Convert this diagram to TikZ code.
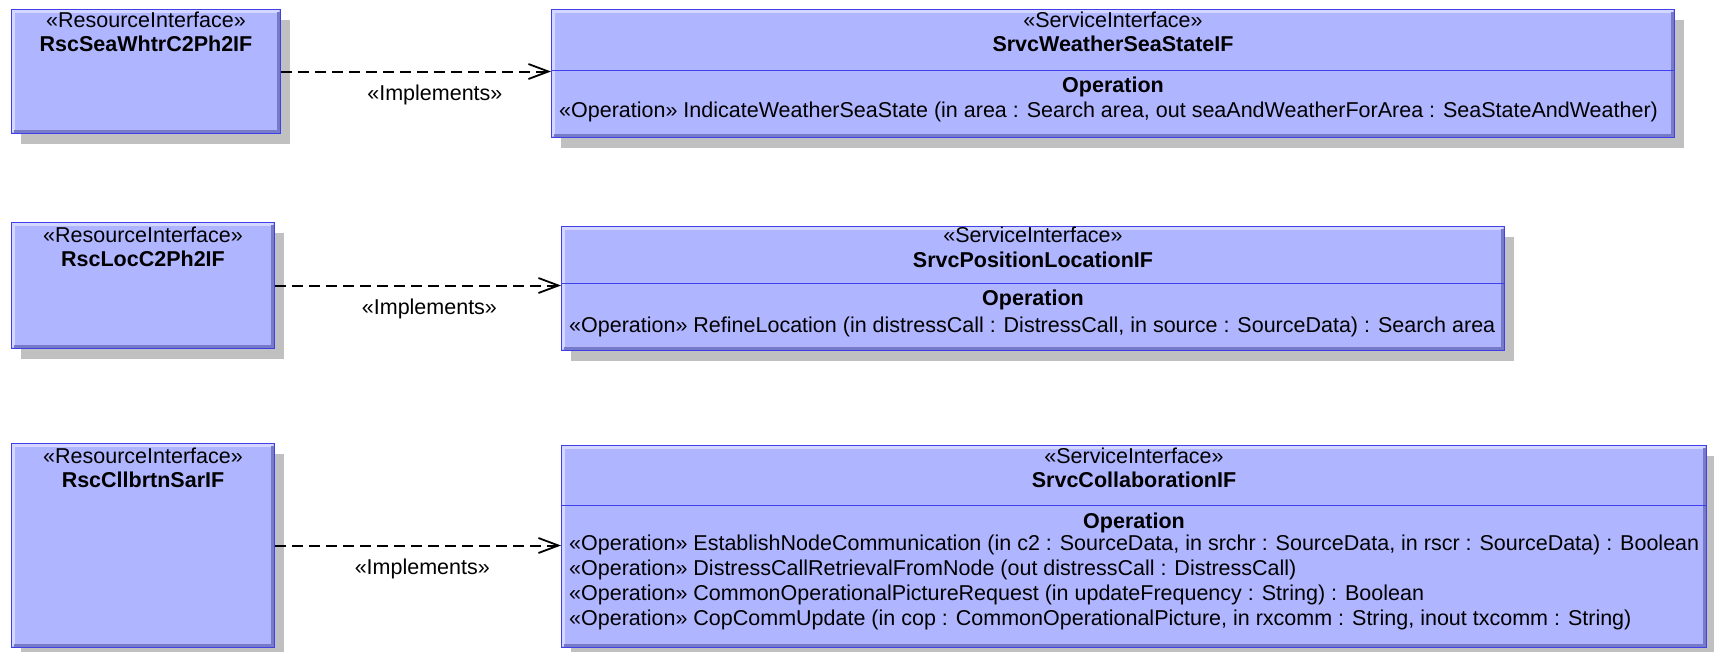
\documentclass[tikz,border=0pt]{standalone}
\usepackage{fontspec}
\setmainfont{Liberation Sans}
\usetikzlibrary{arrows.meta,shadows,calc}
\definecolor{umlfill}{RGB}{176,181,255}
\definecolor{umledge}{RGB}{64,64,232}
\definecolor{bevhi}{RGB}{212,215,255}
\definecolor{bevlo}{RGB}{118,122,200}
\definecolor{shadowgray}{RGB}{192,192,192}

\tikzset{
  umlbox/.style={rectangle, anchor=north west, inner sep=0pt,
    fill=umlfill, draw=umledge, line width=1pt,
    drop shadow={shadow xshift=9pt, shadow yshift=-10pt, fill=shadowgray, opacity=1},
    path picture={
      \draw[bevhi, line width=3pt]
        ([shift={(2pt,2pt)}]path picture bounding box.south west) |-
        ([shift={(-2pt,-2pt)}]path picture bounding box.north east);
      \draw[bevlo, line width=3pt]
        ([shift={(2pt,2pt)}]path picture bounding box.south west) -|
        ([shift={(-2pt,-2pt)}]path picture bounding box.north east);
    }},
  divider/.style={draw=umledge, line width=1pt},
  stereo/.style={anchor=base, inner sep=0pt, font=\fontsize{21.5}{25}\selectfont},
  title/.style={anchor=base, inner sep=0pt, font=\fontsize{21.5}{25}\selectfont\bfseries},
  optext/.style={anchor=base west, inner sep=0pt, font=\fontsize{21.5}{25}\selectfont},
  implarrow/.style={dashed, dash pattern=on 11pt off 6pt, line width=2pt, black,
    -{Straight Barb[length=20pt,width=15pt,line width=1.8pt]}},
  impllabel/.style={anchor=base, yshift=-29pt, inner sep=0pt,
    font=\fontsize{21.5}{25}\selectfont}
}

\begin{document}
\begin{tikzpicture}[x=1pt,y=-1pt]
\useasboundingbox[fill=white] (0,0) rectangle (1714,651);

% ---------- row 1 ----------
\node[umlbox, minimum width=269pt, minimum height=124pt] (r1) at (11,9) {};
\node[umlbox, minimum width=1123pt, minimum height=128pt] (s1) at (551,9) {};
\draw[divider] ($(s1.north west)+(0,61)$) -- ($(s1.north east)+(0,61)$);

\node[stereo] (r1st) at ($(r1.north)+(0,18)$) {«ResourceInterface»};
\node[title]  (r1nm) at ($(r1.north)+(0,42)$) {RscSeaWhtrC2Ph2IF};
\node[stereo] (s1st) at ($(s1.north)+(0,18)$) {«ServiceInterface»};
\node[title]  (s1nm) at ($(s1.north)+(0,42)$) {SrvcWeatherSeaStateIF};
\node[title]  (s1op) at ($(s1.north)+(0,83)$) {Operation};
\node[optext] (s1o1) at ($(s1.north west)+(8,108)$)
  {«Operation» IndicateWeatherSeaState (in area : Search area, out seaAndWeatherForArea : SeaStateAndWeather)};

\draw[implarrow] (r1.east) -- (r1.east -| s1.west)
  node[impllabel, pos=0.57] (l1) {«Implements»};

% ---------- row 2 ----------
\node[umlbox, minimum width=263pt, minimum height=126pt] (r2) at (11,222) {};
\node[umlbox, minimum width=943pt, minimum height=124pt] (s2) at (561,226) {};
\draw[divider] ($(s2.north west)+(0,57)$) -- ($(s2.north east)+(0,57)$);

\node[stereo] (r2st) at ($(r2.north)+(0,20)$) {«ResourceInterface»};
\node[title]  (r2nm) at ($(r2.north)+(0,44)$) {RscLocC2Ph2IF};
\node[stereo] (s2st) at ($(s2.north)+(0,16)$) {«ServiceInterface»};
\node[title]  (s2nm) at ($(s2.north)+(0,41)$) {SrvcPositionLocationIF};
\node[title]  (s2op) at ($(s2.north)+(0,79)$) {Operation};
\node[optext] (s2o1) at ($(s2.north west)+(8,106)$)
  {«Operation» RefineLocation (in distressCall : DistressCall, in source : SourceData) : Search area};

\draw[implarrow] (r2.east) -- (r2.east -| s2.west)
  node[impllabel, pos=0.54] (l2) {«Implements»};

% ---------- row 3 ----------
\node[umlbox, minimum width=263pt, minimum height=204pt] (r3) at (11,443) {};
\node[umlbox, minimum width=1145pt, minimum height=202pt] (s3) at (561,445) {};
\draw[divider] ($(s3.north west)+(0,60)$) -- ($(s3.north east)+(0,60)$);

\node[stereo] (r3st) at ($(r3.north)+(0,20)$) {«ResourceInterface»};
\node[title]  (r3nm) at ($(r3.north)+(0,44)$) {RscCllbrtnSarIF};
\node[stereo] (s3st) at ($(s3.north)+(0,18)$) {«ServiceInterface»};
\node[title]  (s3nm) at ($(s3.north)+(0,42)$) {SrvcCollaborationIF};
\node[title]  (s3op) at ($(s3.north)+(0,83)$) {Operation};
\node[optext] (s3o1) at ($(s3.north west)+(8,105)$)
  {«Operation» EstablishNodeCommunication (in c2 : SourceData, in srchr : SourceData, in rscr : SourceData) : Boolean};
\node[optext] (s3o2) at ($(s3.north west)+(8,130)$)
  {«Operation» DistressCallRetrievalFromNode (out distressCall : DistressCall)};
\node[optext] (s3o3) at ($(s3.north west)+(8,155)$)
  {«Operation» CommonOperationalPictureRequest (in updateFrequency : String) : Boolean};
\node[optext] (s3o4) at ($(s3.north west)+(8,180)$)
  {«Operation» CopCommUpdate (in cop : CommonOperationalPicture, in rxcomm : String, inout txcomm : String)};

\draw[implarrow] (r3.east) -- (r3.east -| s3.west)
  node[impllabel, pos=0.515] (l3) {«Implements»};
\end{tikzpicture}
\end{document}
